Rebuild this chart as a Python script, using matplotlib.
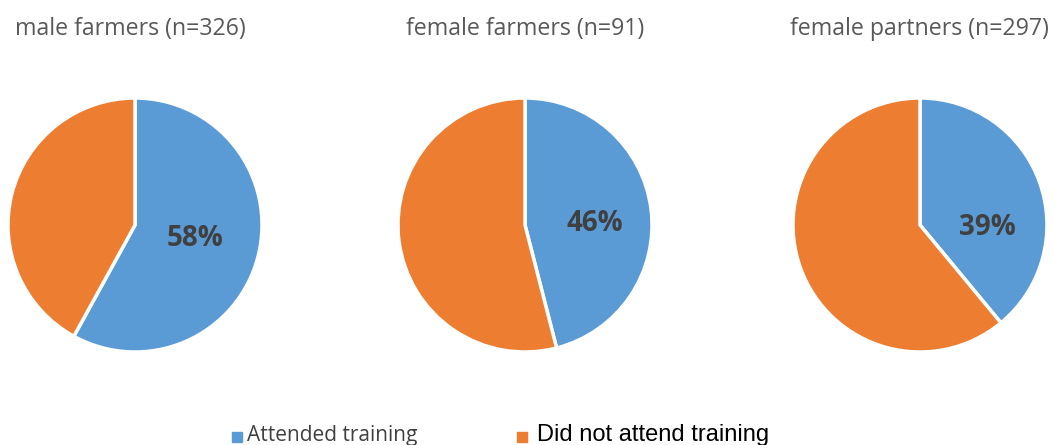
import matplotlib
matplotlib.use("Agg")
import matplotlib.pyplot as plt
from matplotlib.patches import Rectangle

groups = ["male farmers (n=326)", "female farmers (n=91)", "female partners (n=297)"]
attended_pct = [58, 46, 39]
categories = ["Attended training", "Did not attend training"]
colors = ["#5B9BD5", "#ED7D31"]

W, H = 1053, 445
fig = plt.figure(figsize=(W / 100, H / 100), dpi=100)

centers_px = [(135, 225), (525, 225), (920, 225)]
title_x_px = [130, 525, 919]
radius_px = 127
# where each percentage label sits, in pie radius units from the centre
label_xy = [(0.47, -0.11), (0.55, 0.01), (0.53, -0.02)]

for (cx, cy), tx, title, pct, lxy in zip(centers_px, title_x_px, groups,
                                         attended_pct, label_xy):
    ax = fig.add_axes([(cx - radius_px) / W, (H - cy - radius_px) / H,
                       2 * radius_px / W, 2 * radius_px / H])
    wedges, _, autotexts = ax.pie(
        [pct, 100 - pct], colors=colors, startangle=90, counterclock=False,
        autopct=lambda v: f"{v:.0f}%", pctdistance=0.52,
        wedgeprops=dict(edgecolor="white", linewidth=2.5))
    autotexts[0].set(fontfamily="Open Sans", fontweight="bold", fontsize=20,
                     color="#404040", position=lxy)
    autotexts[1].set_visible(False)
    ax.set_xlim(-1, 1)
    ax.set_ylim(-1, 1)
    ax.set_aspect("auto")
    fig.text(tx / W, (H - 29) / H, title, ha="center", va="center",
             fontfamily="Open Sans", fontsize=16.7, color="#595959")

# legend along the bottom
sq = 10
fig.patches.append(Rectangle((232 / W, (H - 442) / H), sq / W, sq / H,
                             transform=fig.transFigure, color=colors[0]))
fig.text(247 / W, (H - 436) / H, categories[0], ha="left", va="center",
         fontfamily="Open Sans", fontsize=15, color="#404040")
fig.patches.append(Rectangle((517 / W, (H - 442) / H), sq / W, sq / H,
                             transform=fig.transFigure, color=colors[1]))
fig.text(537 / W, (H - 435) / H, categories[1], ha="left", va="center",
         fontfamily="Liberation Sans", fontsize=17, color="#000000")

fig.savefig("out.png", dpi=100)
